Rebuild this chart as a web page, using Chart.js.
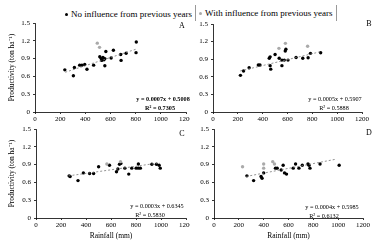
<!DOCTYPE html>
<html>
<head>
<meta charset="utf-8">
<script src="https://cdn.jsdelivr.net/npm/chart.js@4.4.1/dist/chart.umd.min.js"></script>
<style>
  html, body { margin: 0; padding: 0; background: #fff; }
  #fig { position: relative; width: 380px; height: 241px; overflow: hidden; font-family: 'Liberation Serif', 'Times New Roman', serif; }
  canvas { position: absolute; }
  .leg { position: absolute; font-size: 9px; line-height: 12px; white-space: nowrap; color: #000; }
  .dot { display: inline-block; width: 3px; height: 3px; border-radius: 50%; margin-right: 3px; vertical-align: middle; }
</style>
</head>
<body>
<div id="fig">
  <div class="leg" style="left:65px; top:8px;"><span class="dot" style="background:#000"></span>No influence from previous years</div>
  <div class="leg" style="left:195px; top:5px; border-left:1px solid #999; border-right:1px solid #999; padding:2px 3px;"><span class="dot" style="background:#aaa"></span>With influence from previous years</div>
  <canvas id="cA" width="190" height="125" style="left:0; top:0"></canvas>
  <canvas id="cB" width="190" height="125" style="left:190px; top:0"></canvas>
  <canvas id="cC" width="190" height="123" style="left:0; top:118px"></canvas>
  <canvas id="cD" width="190" height="123" style="left:190px; top:118px"></canvas>
</div>
<script>
const rainTicks = [0, 200, 400, 600, 800, 1000, 1200];
const prodTicks = [0, 0.3, 0.6, 0.9, 1.2, 1.5];

// A
const rainA = [237, 305, 313, 355, 373, 395, 413, 466, 515, 526, 530, 540, 548, 555, 555, 563, 605, 623, 681, 684, 724, 803, 805];
const prodA = [0.71, 0.61, 0.75, 0.79, 0.79, 0.80, 0.72, 0.79, 0.93, 0.90, 0.87, 0.92, 0.88, 0.90, 0.78, 1.02, 0.91, 1.04, 0.97, 0.87, 0.99, 1.00, 1.18];
const rainAGray = [495, 513];
const prodAGray = [1.16, 1.09];
const trendRainA = [240, 805];
const trendProdA = [0.67, 1.06];

// B
const rainB = [221, 246, 291, 365, 378, 453, 460, 460, 465, 500, 533, 555, 555, 574, 582, 587, 604, 669, 723, 766, 785, 867];
const prodB = [0.625, 0.70, 0.755, 0.80, 0.80, 0.915, 0.94, 0.79, 0.73, 0.98, 0.915, 0.885, 0.79, 0.885, 1.04, 1.07, 0.885, 0.93, 0.915, 0.925, 1.00, 1.01];
const rainBGray = [531, 583, 762];
const prodBGray = [1.085, 1.17, 1.12];
const trendRainB = [220, 870];
const trendProdB = [0.70, 1.03];

// C
const rainC = [265, 273, 336, 379, 429, 461, 501, 588, 644, 655, 668, 679, 711, 742, 766, 801, 819, 819, 835, 927, 963, 985, 994];
const prodC = [0.71, 0.70, 0.63, 0.76, 0.75, 0.75, 0.865, 0.89, 0.78, 0.825, 0.905, 0.92, 0.84, 0.74, 0.84, 0.84, 0.84, 0.91, 0.84, 0.905, 0.905, 0.89, 0.84];
const rainCGray = [567, 676];
const prodCGray = [0.91, 0.95];
const trendRainC = [260, 990];
const trendProdC = [0.71, 0.93];

// D
const rainD = [265, 319, 379, 387, 400, 495, 509, 541, 557, 568, 584, 638, 657, 684, 711, 757, 765, 773, 854, 1008];
const prodD = [0.71, 0.63, 0.70, 0.67, 0.76, 0.84, 0.84, 0.81, 0.89, 0.76, 0.74, 0.84, 0.91, 0.84, 0.89, 0.91, 0.89, 0.84, 0.91, 0.89];
const rainDGray = [230, 400, 400, 473, 487];
const prodDGray = [0.865, 0.91, 0.84, 0.95, 0.91];
const trendRainD = [260, 980];
const trendProdD = [0.70, 0.99];

const serif = 'Liberation Serif';
const pts = (xs, ys) => xs.map((x, i) => ({ x: x, y: ys[i] }));

const notes = {
  id: 'notes',
  afterDraw(chart, args, o) {
    const ctx = chart.ctx;
    ctx.save();
    ctx.fillStyle = '#000';
    ctx.textAlign = 'center';
    ctx.textBaseline = 'middle';
    ctx.font = '8px "' + serif + '"';
    ctx.fillText(o.letter, o.letterX, o.letterY);
    ctx.font = (o.bold ? 'bold ' : '') + '6.2px "' + serif + '"';
    ctx.fillText(o.eq, o.eqX, o.eqY);
    ctx.fillText(o.r2, o.r2X, o.eqY + 9);
    ctx.restore();
  }
};

function makePanel(id, black, gray, trend, cfg) {
  new Chart(document.getElementById(id), {
    type: 'scatter',
    data: {
      datasets: [
        { data: trend, showLine: true, borderColor: '#777', borderWidth: 0.8, borderDash: [2, 2], pointRadius: 0 },
        { data: gray, backgroundColor: '#aaa', borderColor: '#aaa', pointRadius: 1.7, borderWidth: 0 },
        { data: black, backgroundColor: '#000', borderColor: '#000', pointRadius: 1.7, borderWidth: 0 }
      ]
    },
    options: {
      responsive: false,
      animation: false,
      events: [],
      layout: { padding: { top: cfg.top, right: cfg.right, left: 0, bottom: 0 } },
      plugins: {
        legend: { display: false },
        tooltip: { enabled: false },
        notes: cfg.notes
      },
      scales: {
        x: {
          type: 'linear', min: 0, max: 1200,
          afterBuildTicks: s => { s.ticks = rainTicks.map(v => ({ value: v })); },
          afterFit: s => { s.height = cfg.xHeight; s.paddingLeft = 0; s.paddingRight = 0; },
          grid: { drawOnChartArea: false, drawTicks: true, tickLength: 2, color: '#000', lineWidth: 0.8 },
          border: { display: true, color: '#000', width: 0.8 },
          ticks: { color: '#000', font: { family: serif, size: 7 }, padding: 1, maxRotation: 0, autoSkip: false, callback: v => String(v) },
          title: { display: cfg.xTitle, text: 'Rainfall (mm)', color: '#000', font: { family: serif, size: 7.5 }, padding: { top: 0, bottom: 0 } }
        },
        y: {
          type: 'linear', min: 0, max: 1.5,
          afterBuildTicks: s => { s.ticks = prodTicks.map(v => ({ value: v })); },
          afterFit: s => { s.width = cfg.yWidth; },
          grid: { drawOnChartArea: false, drawTicks: true, tickLength: 2, color: '#000', lineWidth: 0.8 },
          border: { display: true, color: '#000', width: 0.8 },
          ticks: { color: '#000', font: { family: serif, size: 7 }, padding: 3, callback: v => String(v) },
          title: { display: cfg.yTitle, text: 'Productivity (ton ha\u207B\u00B9)', color: '#000', font: { family: serif, size: 7.5 }, padding: { top: 7.5, bottom: 0 } }
        }
      }
    },
    plugins: [notes]
  });
}

makePanel('cA', pts(rainA, prodA), pts(rainAGray, prodAGray), pts(trendRainA, trendProdA), {
  top: 23, right: 3, xHeight: 13, yWidth: 35, xTitle: false, yTitle: true,
  notes: { letter: 'A', letterX: 182, letterY: 26, eq: 'y = 0.0007x + 0.5008', r2: 'R\u00B2 = 0.7305', eqX: 163, r2X: 160, eqY: 99, bold: true }
});
makePanel('cB', pts(rainB, prodB), pts(rainBGray, prodBGray), pts(trendRainB, trendProdB), {
  top: 24, right: 18, xHeight: 13, yWidth: 23, xTitle: false, yTitle: false,
  notes: { letter: 'B', letterX: 179, letterY: 24, eq: 'y = 0.0005x + 0.5907', r2: 'R\u00B2 = 0.5888', eqX: 145, r2X: 144, eqY: 99, bold: false }
});
makePanel('cC', pts(rainC, prodC), pts(rainCGray, prodCGray), pts(trendRainC, trendProdC), {
  top: 11, right: 3, xHeight: 23, yWidth: 36, xTitle: true, yTitle: true,
  notes: { letter: 'C', letterX: 182, letterY: 16, eq: 'y = 0.0003x + 0.6345', r2: 'R\u00B2 = 0.5830', eqX: 157, r2X: 150, eqY: 88, bold: false }
});
makePanel('cD', pts(rainD, prodD), pts(rainDGray, prodDGray), pts(trendRainD, trendProdD), {
  top: 11, right: 17, xHeight: 23, yWidth: 24, xTitle: true, yTitle: false,
  notes: { letter: 'D', letterX: 179, letterY: 15, eq: 'y = 0.0004x + 0.5985', r2: 'R\u00B2 = 0.6132', eqX: 142, r2X: 134, eqY: 89, bold: false }
});
</script>
</body>
</html>
